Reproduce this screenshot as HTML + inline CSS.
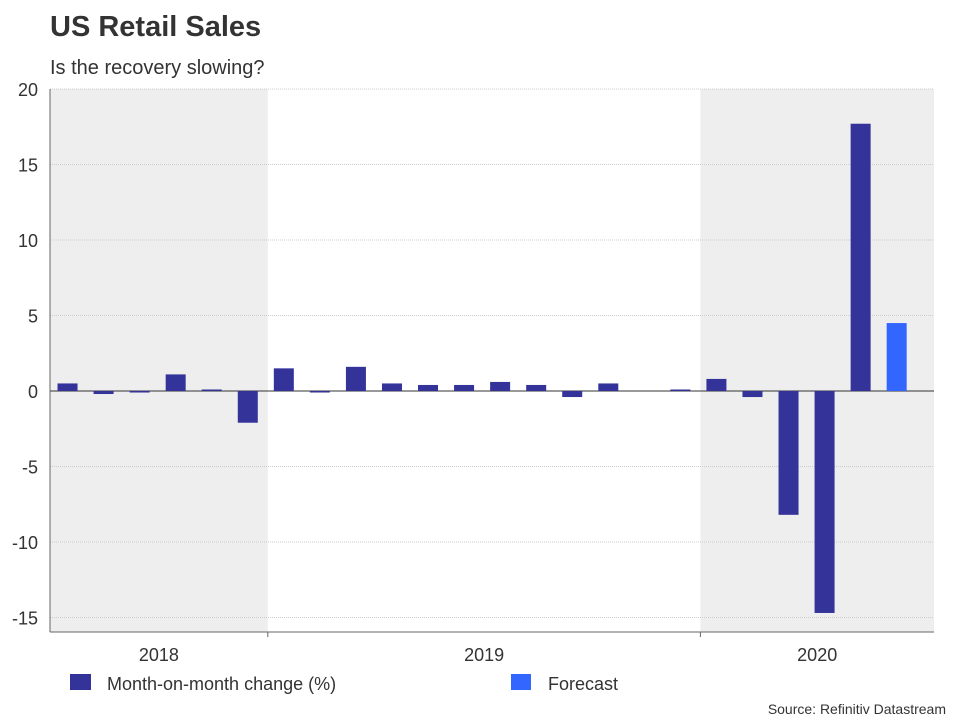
<!DOCTYPE html>
<html><head><meta charset="utf-8"><style>
body{margin:0;background:#fff;font-family:"Liberation Sans",Arial,sans-serif;}
svg text{font-family:"Liberation Sans",Arial,sans-serif;}
</style></head><body>
<svg id="c" width="960" height="720">
<text x="50" y="36" font-size="29" font-weight="bold" fill="#333">US Retail Sales</text>
<text x="50" y="74" font-size="20" fill="#333">Is the recovery slowing?</text>
<g id="plot"></g>
<rect x="70" y="674" width="21" height="16" fill="#333399"/>
<text x="107" y="690" font-size="18" fill="#333">Month-on-month change (%)</text>
<rect x="511" y="674" width="20" height="16" fill="#3366ff"/>
<text x="548" y="690" font-size="18" fill="#333">Forecast</text>
<text x="946" y="714" font-size="14" fill="#333" text-anchor="end">Source: Refinitiv Datastream</text>
</svg>
<script>
const values=[0.5,-0.2,-0.1,1.1,0.1,-2.1,1.5,-0.1,1.6,0.5,0.4,0.4,0.6,0.4,-0.4,0.5,0.0,0.1,0.8,-0.4,-8.2,-14.7,17.7,4.5];
const isForecast=[0,0,0,0,0,0,0,0,0,0,0,0,0,0,0,0,0,0,0,0,0,0,0,1];
const yTicks=[20,15,10,5,0,-5,-10,-15];
const years=["2018","2019","2020"];
const yearMonths=[6,12,6];
const NS="http://www.w3.org/2000/svg";
const g=document.getElementById('plot');
const L=50,R=934,T=89,B=632,X0=49.5;
const y=v=>391-v*15.1;
const bw=36.05;
const x=i=>X0+i*bw;
function mk(t,a){const e=document.createElementNS(NS,t);for(const k in a)e.setAttribute(k,a[k]);g.appendChild(e);return e;}
let start=0;
years.forEach((yr,j)=>{
  const x0=j===0?L:x(start)+2,x1=j===years.length-1?R:x(start+yearMonths[j])+2;
  if(j!==1){const r=mk('rect',{x:x0,y:T,width:x1-x0,height:B-T,fill:'#eeeeee'});
  
  }
  const t=mk('text',{x:(x0+x1)/2,y:661,'font-size':18,fill:'#333','text-anchor':'middle'});t.textContent=yr;
  
  
  if(j>0){const tk=mk('line',{x1:x0,x2:x0,y1:B,y2:B+5,stroke:'#666'});
  
  }
  start+=yearMonths[j];
});
yTicks.forEach(v=>{
  const l=mk('line',{x1:L,x2:R,y1:y(v),y2:y(v),stroke:v===0?'#333':'#ccc','stroke-width':1,'stroke-dasharray':v===0?'':'1,1'});
  
  
  const t=mk('text',{x:38,y:y(v)+7,'font-size':18,fill:'#333','text-anchor':'end'});t.textContent=v;
  
  
});
const ax=mk('line',{x1:L,x2:L,y1:T,y2:B,stroke:'#666'});


const bx=mk('line',{x1:L,x2:R,y1:B,y2:B,stroke:'#666'});


values.forEach((v,i)=>{
  const w=20,cx=x(i)+bw/2;
  const r=mk('rect',{x:cx-w/2,y:Math.min(y(v),y(0)),width:w,height:Math.abs(y(v)-y(0)),fill:isForecast[i]?'#3366ff':'#333399'});
  
  
});
</script>
</body></html>
